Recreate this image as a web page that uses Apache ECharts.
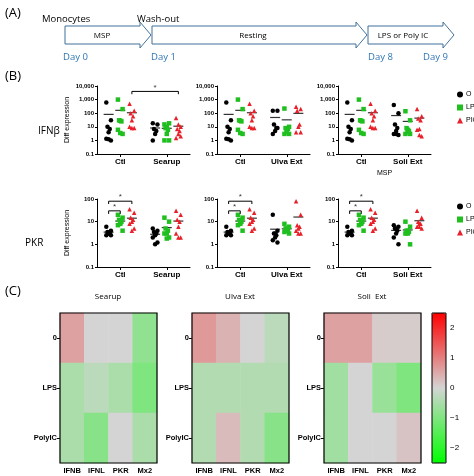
<!DOCTYPE html>
<html>
<head>
<meta charset="UTF-8">
<script src="https://cdn.jsdelivr.net/npm/echarts@6/dist/echarts.min.js"></script>
<style>html,body{margin:0;background:#fff}#c{width:474px;height:476px}</style>
</head>
<body>
<div id="c"></div>
<script>
// groups and categories
var groups = ['O', 'LPS', 'PIC'];
var groupColors = ['#000000', '#1fbf1f', '#e8202a'];
var groupSymbols = ['circle', 'rect', 'triangle'];
var extracts = ['Searup', 'Ulva Ext', 'Soli Ext'];

// IFNb values (Ctl shared, then each extract), groups O / LPS / PIC
var ifnbCtl = [[600, 30, 10, 7, 4, 1.3, 1, 1.2], [1000, 200, 30, 25, 28, 6, 3, 3.5], [500, 150, 100, 60, 30, 10, 8, 8]];
var ifnbSearup = [[18, 15, 7, 5, 3, 1], [15, 18, 8, 6, 3, 1, 1, 10], [45, 10, 7, 5, 3, 1.5, 2, 15]];
var ifnbUlva = [[150, 150, 15, 8, 5, 3, 8], [220, 10, 8, 7, 4, 3, 3, 5], [300, 200, 150, 15, 10, 4, 4]];
var ifnbSoli = [[400, 100, 15, 8, 5, 3, 2.5, 3], [140, 30, 8, 5, 4, 3, 3, 6], [200, 60, 40, 30, 7, 6, 2, 2.5]];

// PKR values
var pkrCtl = [[6, 4, 3.5, 3, 3, 2.5, 2.5, 3.2], [20, 15, 12, 10, 8, 7, 4, 9], [35, 25, 15, 12, 10, 8, 5, 4]];
var pkrSearup = [[5, 4, 3.5, 3, 2.5, 2, 1.2, 1], [15, 10, 5, 4, 3, 3, 2, 1.8], [30, 20, 12, 10, 6, 3, 2, 2]];
var pkrUlva = [[20, 4, 3, 2.5, 2, 1.5, 1.2, 3], [8, 6, 5, 4, 4, 3.5, 3, 5], [80, 20, 7, 6, 5, 4, 3, 3]];
var pkrSoli = [[7, 6, 5, 4, 3, 2, 1, 5], [10, 6, 4, 3.5, 3, 3, 1, 4], [30, 15, 10, 8, 6, 6, 5, 8]];

// heatmap (rows 0 / LPS / PolyIC, cols IFNB IFNL PKR Mx2)
var heatCols = ['IFNB', 'IFNL', 'PKR', 'Mx2'];
var heatRows = ['0', 'LPS', 'PolyIC'];
var heatSearup = [[0.6, 0, 0, -0.8], [-0.5, -0.3, -0.5, -1.0], [-0.5, -0.9, 0, -0.5]];
var heatUlva = [[0.7, 0.4, 0, -0.3], [-0.4, -0.4, -0.4, -0.4], [-0.4, 0.3, -0.4, -0.9]];
var heatSoli = [[0.6, 0.6, 0.1, 0.1], [-0.6, 0, -0.7, -1.0], [-0.6, 0, 0, 0.2]];
var scaleTicks = [-2, -1, 0, 1, 2];

var FONT = 'Liberation Sans';
var jitter = [-0.2, 0.2, -0.1, 0.1, 0, -0.2, 0.2, 0];

var panels = [
  { ctl: ifnbCtl, ext: ifnbSearup, name: extracts[0], row: 0 },
  { ctl: ifnbCtl, ext: ifnbUlva, name: extracts[1], row: 0 },
  { ctl: ifnbCtl, ext: ifnbSoli, name: extracts[2], row: 0 },
  { ctl: pkrCtl, ext: pkrSearup, name: extracts[0], row: 1 },
  { ctl: pkrCtl, ext: pkrUlva, name: extracts[1], row: 1 },
  { ctl: pkrCtl, ext: pkrSoli, name: extracts[2], row: 1 }
];
var lefts = [97, 217, 338];
var tops = [86, 199];

var grids = [], xAxes = [], yAxes = [], series = [];
var logLabel = function (v) { return v >= 1000 ? v.toLocaleString('en-US') : String(v); };

panels.forEach(function (p, i) {
  var col = i % 3;
  grids.push({ left: lefts[col], top: tops[p.row], width: 93, height: 68 });
  xAxes.push({
    type: 'value', gridIndex: i, min: 0, max: 8, splitLine: { show: false },
    axisLine: { lineStyle: { color: '#000', width: 1 } },
    axisTick: { customValues: [2, 6], length: 3, lineStyle: { color: '#000' } },
    axisLabel: { customValues: [2, 6], fontSize: 8, fontFamily: FONT, fontWeight: 'bold', color: '#000', margin: 4,
      formatter: function (v) { return v === 2 ? 'Ctl' : p.name; } },
    name: (i === 2) ? 'MSP' : '', nameLocation: 'middle', nameGap: 16,
    nameTextStyle: { fontSize: 7, fontFamily: FONT, color: '#000' }
  });
  yAxes.push({
    type: 'log', gridIndex: i, min: 0.1, max: p.row === 0 ? 10000 : 100, logBase: 10,
    splitLine: { show: false },
    axisLine: { show: true, lineStyle: { color: '#000', width: 1 } },
    axisTick: { show: true, length: 2, lineStyle: { color: '#000' } },
    axisLabel: { fontSize: 6, fontFamily: FONT, fontWeight: 'bold', color: '#000', margin: 3, formatter: logLabel },
    name: col === 0 ? 'Diff expression' : '', nameLocation: 'middle', nameGap: 26, nameRotate: 90,
    nameTextStyle: { fontSize: 7, fontFamily: FONT, color: '#000' }
  });
  [p.ctl, p.ext].forEach(function (cond, c) {
    cond.forEach(function (vals, g) {
      var x0 = (c === 0 ? 1 : 5) + g;
      series.push({
        type: 'scatter', name: groups[g], xAxisIndex: i, yAxisIndex: i,
        symbol: groupSymbols[g], symbolSize: 4.5, itemStyle: { color: groupColors[g], opacity: 1 },
        data: vals.map(function (v, k) { return [x0 + jitter[k % jitter.length], v]; })
      });
      var mean = vals.reduce(function (a, b) { return a + b; }, 0) / vals.length;
      series.push({
        type: 'scatter', name: 'mean', xAxisIndex: i, yAxisIndex: i, symbol: 'rect',
        symbolSize: [10, 1.2], itemStyle: { color: '#000' }, data: [[x0, mean]], z: 1
      });
    });
  });
});

// significance brackets: [panel, xFrom, xTo, yBar, yDrop]
var brackets = [
  [0, 3, 7, 4000, 2500],
  [3, 1, 2, 30, 22], [3, 1, 3, 80, 60],
  [4, 1, 2, 30, 22], [4, 1, 3, 80, 60],
  [5, 1, 2, 30, 22], [5, 1, 3, 80, 60]
];
brackets.forEach(function (b) {
  series.push({
    type: 'line', xAxisIndex: b[0], yAxisIndex: b[0], symbol: 'none', silent: true,
    lineStyle: { color: '#000', width: 1 },
    data: [[b[1], b[4]], [b[1], b[3]], [b[2], b[3]], [b[2], b[4]]]
  });
  series.push({
    type: 'scatter', xAxisIndex: b[0], yAxisIndex: b[0], symbolSize: 0, silent: true,
    label: { show: true, formatter: '*', position: 'top', distance: 0, fontSize: 8, color: '#000' },
    data: [[(b[1] + b[2]) / 2, b[3]]]
  });
});

// heatmaps
var heatLefts = [60, 192, 324];
var borders = [];
[heatSearup, heatUlva, heatSoli].forEach(function (h, j) {
  var gi = grids.length;
  grids.push({ left: heatLefts[j], top: 313, width: 97, height: 150 });
  borders.push({ type: 'rect', shape: { x: heatLefts[j], y: 313, width: 97, height: 150 }, style: { fill: 'none', stroke: '#000', lineWidth: 1.2 }, z: 100 });
  xAxes.push({ type: 'category', gridIndex: gi, data: heatCols, axisLine: { show: false }, axisTick: { show: false },
    axisLabel: { fontSize: 7.5, fontWeight: 'bold', fontFamily: FONT, color: '#000', margin: 4 } });
  yAxes.push({ type: 'category', gridIndex: gi, data: heatRows, inverse: true, axisLine: { show: false },
    axisTick: { show: true, length: 3, alignWithLabel: true, lineStyle: { color: '#000' } },
    axisLabel: { fontSize: 7.5, fontWeight: 'bold', fontFamily: FONT, color: '#000', margin: 3 } });
  var d = [];
  h.forEach(function (row, r) { row.forEach(function (v, c) { d.push([c, r, v]); }); });
  series.push({ type: 'heatmap', xAxisIndex: gi, yAxisIndex: gi, data: d, silent: true });
});

// colour-bar scale axis
var sg = grids.length;
grids.push({ left: 446, top: 313, width: 1, height: 150 });
xAxes.push({ type: 'value', gridIndex: sg, show: false });
yAxes.push({ type: 'value', gridIndex: sg, min: -2.5, max: 2.5, position: 'right', splitLine: { show: false },
  axisLine: { show: false },
  axisTick: { customValues: scaleTicks, inside: true, length: 3, lineStyle: { color: '#000' } },
  axisLabel: { customValues: scaleTicks, fontSize: 8, fontFamily: FONT, color: '#000', margin: 3,
    formatter: function (v) { return v < 0 ? '\u2212' + (-v) : String(v); } } });

var seriesIdx = [];
series.forEach(function (s, k) { if (s.type === 'heatmap') seriesIdx.push(k); });

var blue = '#2e75b6';
var txt = function (x, y, t, size, color, align) {
  return { type: 'text', x: x, y: y, style: { text: t, fontSize: size, fontFamily: 'Open Sans', fill: color || '#000', align: align || 'left', verticalAlign: 'middle' } };
};
var arrow = function (x1, x2) {
  return { type: 'polygon', shape: { points: [[x1, 26], [x2 - 11, 26], [x2 - 11, 22], [x2, 35], [x2 - 11, 48], [x2 - 11, 44], [x1, 44]] },
    style: { fill: '#fff', stroke: '#41719c', lineWidth: 1 } };
};

var option = {
  animation: false,
  grid: grids, xAxis: xAxes, yAxis: yAxes, series: series,
  legend: [0, 1].map(function (r) {
    return { data: groups, orient: 'vertical', left: 452, top: r === 0 ? 86 : 198, itemWidth: 6, itemHeight: 6, itemGap: 6,
      textStyle: { fontSize: 7, fontFamily: FONT, color: '#000', padding: [0, 0, 0, -2] }, selectedMode: false };
  }),
  visualMap: { type: 'continuous', min: -2.5, max: 2.5, seriesIndex: seriesIdx, left: 432, top: 313, itemWidth: 14, itemHeight: 150,
    padding: 0, text: null, showLabel: false, calculable: false,
    inRange: { color: ['#00ff00', '#d4d4d4', '#ff0000'] } },
  graphic: borders.concat([
    txt(5, 13, '(A)', 13), txt(5, 76, '(B)', 13), txt(5, 291, '(C)', 13),
    txt(42, 19, 'Monocytes', 9.5), txt(137, 19, 'Wash-out', 9.5),
    arrow(65, 151), arrow(152, 367), arrow(368, 454),
    txt(102, 36, 'MSP', 8, '#000', 'center'), txt(253, 36, 'Resting', 8, '#000', 'center'), txt(403, 36, 'LPS or Poly IC', 8, '#000', 'center'),
    txt(63, 57, 'Day 0', 9.5, blue), txt(151, 57, 'Day 1', 9.5, blue), txt(368, 57, 'Day 8', 9.5, blue), txt(423, 57, 'Day 9', 9.5, blue),
    txt(38, 131, 'IFN\u03b2', 10), txt(25, 243, 'PKR', 10),
    txt(108, 297, 'Searup', 8, '#000', 'center'), txt(240, 297, 'Ulva Ext', 8, '#000', 'center'), txt(372, 297, 'Soli  Ext', 8, '#000', 'center'),
    { type: 'rect', shape: { x: 432, y: 313, width: 14, height: 150 }, style: { fill: 'none', stroke: '#000', lineWidth: 1 }, z: 100 }
  ])
};
echarts.init(document.getElementById('c')).setOption(option);
</script>
</body>
</html>
